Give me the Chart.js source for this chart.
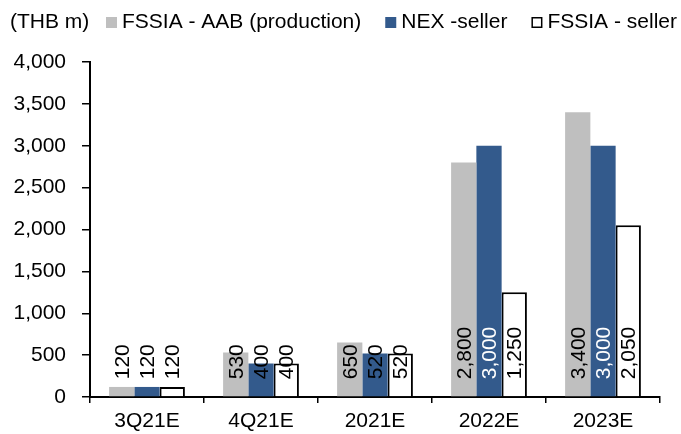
<!DOCTYPE html>
<html>
<head>
<meta charset="utf-8">
<script src="https://cdn.jsdelivr.net/npm/chart.js@4"></script>
<style>
  html, body { margin: 0; padding: 0; background: #fff; }
  #wrap { width: 681px; height: 434px; position: relative; }
</style>
</head>
<body>
<div id="wrap"><canvas id="c"></canvas></div>
<script>
const categories = ["3Q21E", "4Q21E", "2021E", "2022E", "2023E"];
const aabProduction = [120, 530, 650, 2800, 3400];
const nexSeller = [120, 400, 520, 3000, 3000];
const fssiaSeller = [120, 400, 520, 1250, 2050];
const unitLabel = "(THB m)";

const FONT = '"Liberation Sans", Arial, sans-serif';
const FSIZE = 21;
const fmt = v => v.toLocaleString('en-US');

// value labels rotated, sitting near the bottom of each bar
const barLabels = {
  id: 'barLabels',
  afterDatasetsDraw(chart) {
    const ctx = chart.ctx;
    ctx.save();
    ctx.font = FSIZE + 'px ' + FONT;
    ctx.textAlign = 'left';
    ctx.textBaseline = 'middle';
    chart.data.datasets.forEach((ds, i) => {
      chart.getDatasetMeta(i).data.forEach((bar, j) => {
        const txt = fmt(ds.data[j]);
        const w = ctx.measureText(txt).width;
        const fits = bar.base - bar.y > w + 22;
        ctx.save();
        ctx.translate(bar.x, bar.base - 17);
        ctx.rotate(-Math.PI / 2);
        ctx.fillStyle = fits ? ds.labelColor : '#000';
        ctx.fillText(txt, 0, 1);
        ctx.restore();
      });
    });
    ctx.restore();
  }
};

// legend in one line with the unit on the left
const topLegend = {
  id: 'topLegend',
  afterDraw(chart) {
    const ctx = chart.ctx;
    ctx.save();
    ctx.font = FSIZE + 'px ' + FONT;
    ctx.textBaseline = 'middle';
    ctx.fillStyle = '#000';
    const y = 22;
    ctx.fillText(unitLabel, 10, y);
    let x = 106;
    chart.data.datasets.forEach(ds => {
      ctx.fillStyle = ds.backgroundColor;
      ctx.fillRect(x, y - 5, 11, 11);
      if (ds.borderWidth) {
        ctx.strokeStyle = '#000';
        ctx.lineWidth = 1.5;
        ctx.strokeRect(x + 0.75, y - 4.25, 9.5, 9.5);
      }
      ctx.fillStyle = '#000';
      ctx.fillText(ds.label, x + 16, y);
      x += 16 + ctx.measureText(ds.label).width + 24;
    });
    ctx.restore();
  }
};

const whiteBg = {
  id: 'whiteBg',
  beforeDraw(chart) {
    const ctx = chart.ctx;
    ctx.save();
    ctx.fillStyle = '#fff';
    ctx.fillRect(0, 0, chart.width, chart.height);
    ctx.restore();
  }
};

new Chart(document.getElementById('c'), {
  type: 'bar',
  data: {
    labels: categories,
    datasets: [
      {
        label: 'FSSIA - AAB (production)',
        data: aabProduction,
        backgroundColor: '#bfbfbf',
        borderWidth: 0,
        labelColor: '#000'
      },
      {
        label: 'NEX -seller',
        data: nexSeller,
        backgroundColor: '#335a8c',
        borderWidth: 0,
        labelColor: '#fff'
      },
      {
        label: 'FSSIA - seller',
        data: fssiaSeller,
        backgroundColor: '#ffffff',
        borderColor: '#000',
        borderWidth: 2,
        borderSkipped: 'bottom',
        labelColor: '#000'
      }
    ]
  },
  options: {
    responsive: true,
    maintainAspectRatio: false,
    animation: false,
    layout: { padding: { top: 62, right: 21, left: 0, bottom: 0 } },
    datasets: {
      bar: { categoryPercentage: 0.665, barPercentage: 1 }
    },
    plugins: {
      legend: { display: false },
      tooltip: { enabled: false }
    },
    scales: {
      x: {
        grid: { drawOnChartArea: false, tickLength: 6, color: '#000', lineWidth: 1.5 },
        border: { color: '#000', width: 2 },
        ticks: { color: '#000', font: { size: FSIZE, family: FONT }, padding: 6, maxRotation: 0 },
        afterFit(s) { s.height = 37; }
      },
      y: {
        min: 0,
        max: 4000,
        grid: { drawOnChartArea: false, tickLength: 8, color: '#000', lineWidth: 1.5 },
        border: { color: '#000', width: 2 },
        ticks: {
          stepSize: 500,
          color: '#000',
          font: { size: FSIZE, family: FONT },
          padding: 16,
          callback: v => fmt(v)
        },
        afterFit(s) { s.width = 90; }
      }
    }
  },
  plugins: [whiteBg, barLabels, topLegend]
});
</script>
</body>
</html>
